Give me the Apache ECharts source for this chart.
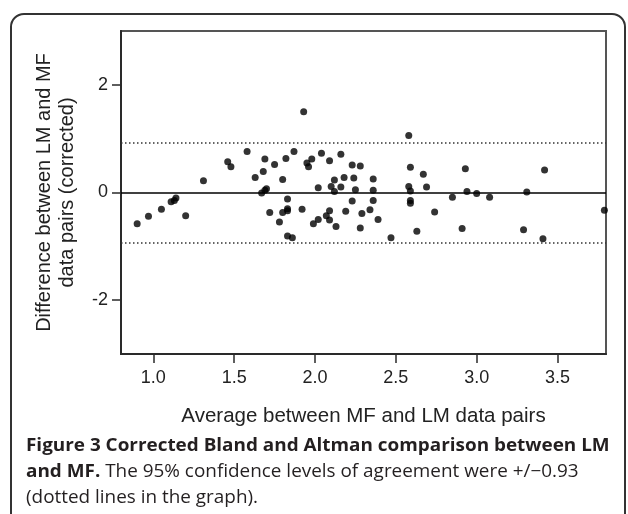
<!DOCTYPE html>
<html>
<head>
<meta charset="utf-8">
<script src="https://cdn.jsdelivr.net/npm/echarts@6/dist/echarts.min.js"></script>
<style>
html,body{margin:0;padding:0;background:#fff;}
#chart{width:628px;height:514px;}
</style>
</head>
<body>
<div id="chart"></div>
<script>
// Average between MF and LM data pairs (x)
const averages = [0.90,0.97,1.05,1.11,1.13,1.14,1.20,1.31,1.46,1.48,1.58,1.63,1.67,1.69,1.70,1.68,1.69,1.72,1.75,1.78,1.80,1.80,1.82,1.83,1.83,1.83,1.83,1.86,1.87,1.92,1.93,1.95,1.96,1.98,1.99,2.02,2.02,2.04,2.07,2.09,2.09,2.09,2.10,2.12,2.12,2.13,2.16,2.16,2.18,2.19,2.23,2.24,2.23,2.25,2.28,2.28,2.29,2.34,2.36,2.36,2.36,2.39,2.47,2.58,2.59,2.58,2.59,2.59,2.59,2.63,2.67,2.69,2.74,2.85,2.91,2.93,2.94,3.00,3.08,3.29,3.31,3.41,3.42,3.79];
// Difference between LM and MF data pairs (corrected) (y)
const differences = [-0.58,-0.44,-0.31,-0.17,-0.15,-0.10,-0.43,0.22,0.57,0.48,0.76,0.28,-0.01,0.04,0.07,0.39,0.62,-0.37,0.52,-0.55,0.24,-0.37,0.63,-0.30,-0.34,-0.12,-0.81,-0.84,0.76,-0.31,1.50,0.55,0.48,0.62,-0.58,-0.50,0.09,0.73,-0.43,0.59,-0.34,-0.51,0.11,0.23,0.02,-0.63,0.71,0.10,0.28,-0.35,0.51,0.27,-0.16,0.05,0.49,-0.66,-0.39,-0.32,0.25,0.04,-0.15,-0.50,-0.84,1.06,0.47,0.11,0.03,-0.15,-0.20,-0.72,0.34,0.10,-0.36,-0.09,-0.67,0.44,0.02,-0.02,-0.09,-0.69,0.01,-0.86,0.42,-0.33];
const meanDifference = 0;
const limitsOfAgreement = [0.93, -0.93];
const xTickValues = [1.0,1.5,2.0,2.5,3.0,3.5];
const yTickValues = [-2,0,2];
const xRange = [0.8, 3.8];
const yRange = [-3, 3];

const points = averages.map((a, i) => [a, differences[i]]);
const chartFont = '"Liberation Sans", Arial, sans-serif';
const captionFont = '"Open Sans", sans-serif';
const capSize = 17.5;
const capStretch = 1.08;

const chart = echarts.init(document.getElementById('chart'), null, {renderer: 'canvas'});
chart.setOption({
  animation: false,
  backgroundColor: '#fff',
  grid: {left: 121, right: 22, top: 31, bottom: 160, show: true, borderColor: '#555', borderWidth: 2, containLabel: false},
  xAxis: {
    type: 'value', min: xRange[0], max: xRange[1],
    name: 'Average between MF and LM data pairs', nameLocation: 'middle', nameGap: 52,
    nameTextStyle: {fontFamily: chartFont, fontSize: 20.5, color: '#222', lineHeight: 20},
    axisLine: {show: true, onZero: false, lineStyle: {color: '#2a2a2a', width: 2}},
    axisTick: {show: true, length: 9, customValues: xTickValues, lineStyle: {color: '#2a2a2a', width: 1.5}},
    axisLabel: {customValues: xTickValues, margin: 15, fontFamily: chartFont, fontSize: 18, color: '#222', formatter: v => v.toFixed(1)},
    splitLine: {show: false}
  },
  yAxis: {
    type: 'value', min: yRange[0], max: yRange[1],
    name: 'Difference between LM and MF\ndata pairs (corrected)', nameLocation: 'middle', nameGap: 42, nameRotate: 90,
    nameTextStyle: {fontFamily: chartFont, fontSize: 20, color: '#222', lineHeight: 23},
    axisLine: {show: true, onZero: false, lineStyle: {color: '#2a2a2a', width: 2}},
    axisTick: {show: true, length: 9, customValues: yTickValues, lineStyle: {color: '#2a2a2a', width: 1.5}},
    axisLabel: {customValues: yTickValues, margin: 13, fontFamily: chartFont, fontSize: 18, color: '#222', formatter: v => String(v)},
    splitLine: {show: false}
  },
  series: [{
    type: 'scatter',
    data: points,
    symbol: 'circle',
    symbolSize: 7,
    itemStyle: {color: '#000'},
    z: 5,
    markLine: {
      silent: true, symbol: 'none', label: {show: false},
      data: [
        {yAxis: meanDifference, lineStyle: {color: '#000', width: 1.5, type: 'solid'}},
        {yAxis: limitsOfAgreement[0], lineStyle: {color: '#333', width: 1.5, type: [1.5, 2.5]}},
        {yAxis: limitsOfAgreement[1], lineStyle: {color: '#333', width: 1.5, type: [1.5, 2.5]}}
      ]
    }
  }],
  graphic: [
    {type: 'rect', shape: {x: 11, y: 14, width: 614, height: 560, r: 13}, style: {fill: 'none', stroke: '#333', lineWidth: 2}, silent: true},
    {type: 'text', x: 26, y: 437, scaleX: capStretch, style: {text: 'Figure 3 Corrected Bland and Altman comparison between LM', font: 'bold ' + capSize + 'px ' + captionFont, fill: '#231f20'}},
    {type: 'text', x: 26, y: 463, scaleX: capStretch, style: {text: '{b|and MF.} The 95% confidence levels of agreement were +/\u22120.93', font: capSize + 'px ' + captionFont, fill: '#231f20', rich: {b: {fontWeight: 'bold', fontFamily: captionFont, fontSize: capSize, fill: '#231f20'}}}},
    {type: 'text', x: 26, y: 489, scaleX: capStretch, style: {text: '(dotted lines in the graph).', font: capSize + 'px ' + captionFont, fill: '#231f20'}}
  ]
});
</script>
</body>
</html>
